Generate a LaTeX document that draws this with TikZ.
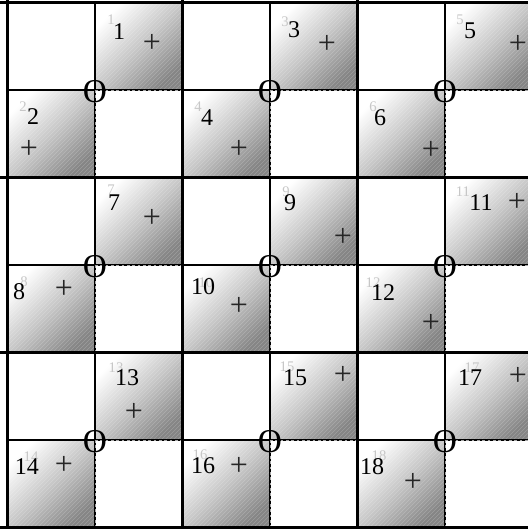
\documentclass[tikz,border=0pt]{standalone}
\usepackage{fontspec}
\setmainfont{Liberation Serif}
\usetikzlibrary{patterns}
\tikzset{
  num/.style={inner sep=0pt, font=\fontsize{18}{18}\selectfont, text=black},
  ghost/.style={inner sep=0pt, font=\fontsize{11}{11}\selectfont, text=black!22},
  plussign/.style={inner sep=0pt, font=\fontsize{24}{24}\selectfont, text=black!85},
  centermark/.style={inner sep=0pt, font=\fontsize{25}{25}\selectfont, text=black},
  thinline/.style={line width=1.25pt, black},
  thickline/.style={line width=2.6pt, black},
  seam/.style={line width=0.7pt, black!35, dash pattern=on 2pt off 2pt},
  quadshade/.style={top color=white, bottom color=black!48, middle color=black!22, shading angle=45}
}
\begin{document}
\begin{tikzpicture}[x=0.75pt,y=-0.75pt]
\useasboundingbox (0,0) rectangle (528,529);
\clip (0,0) rectangle (528,529);
\fill[white] (0,0) rectangle (528,529);
% shaded quadrants
\foreach \r in {0,1,2}{
  \foreach \c in {0,1,2}{
    \shade[quadshade] ({95+175*\c},{2.5+175*\r}) rectangle ++(87.5,87.5);
    \fill[pattern=north east lines, pattern color=white, opacity=0.2] ({95+175*\c},{2.5+175*\r}) rectangle ++(87.5,87.5);
    \shade[quadshade] ({7.5+175*\c},{90+175*\r}) rectangle ++(87.5,87.5);
    \fill[pattern=north east lines, pattern color=white, opacity=0.2] ({7.5+175*\c},{90+175*\r}) rectangle ++(87.5,87.5);
  }
}
% quadrant lines
\foreach \r in {0,1,2}{
  \foreach \c in {0,1,2}{
    \coordinate (m\r\c) at ({95+175*\c},{90+175*\r});
    \draw[thinline] ({95+175*\c},{2.5+175*\r}) -- ++(0,175);
    \draw[thinline] ({7.5+175*\c},{90+175*\r}) -- ++(175,0);
    \draw[seam] (m\r\c) -- ++(87.5,0);
    \draw[seam] (m\r\c) -- ++(0,87.5);
  }
}
% big grid lines
\foreach \v in {7.5,182.5,357.5,532.5}{
  \draw[thickline] (\v,0) -- (\v,529);
  \draw[thickline] (0,\v-5) -- (540,\v-5);
}
% centre marks
\foreach \r in {0,1,2}{
  \foreach \c in {0,1,2}{
    \node[centermark] (o\r\c) at ({95+175*\c},{92+175*\r}) {O};
  }
}
% numbers and plus signs
\foreach \n/\mx/\my/\gx/\gy/\px/\py in {
  1/119/32/111/20/152/43,
  2/33/117/23/107/29/149,
  3/294/30/285/22/327/44,
  4/207/118/198/107/239/149,
  5/470/31/460/20/518/44,
  6/380/118/373/107/431/150,
  7/114/203/111/190/152/218,
  8/19/292/24/282/64/289,
  9/290/203/286/192/343/237,
  10/203/287/206/283/239/306,
  11/481/203/463/192/517/202,
  12/383/293/373/283/431/323,
  13/127/378/116/368/134/412,
  14/27/467/31/457/64/465,
  15/295/378/287/367/343/375,
  16/203/466/200/455/239/466,
  17/470/378/472/368/518/376,
  18/372/467/379/456/413/482}{
  \node[ghost] (g\n) at (\gx,\gy) {\n};
  \node[num] (n\n) at (\mx,\my) {\n};
  \node[plussign] (p\n) at (\px,\py) {+};
}
\end{tikzpicture}
\end{document}
